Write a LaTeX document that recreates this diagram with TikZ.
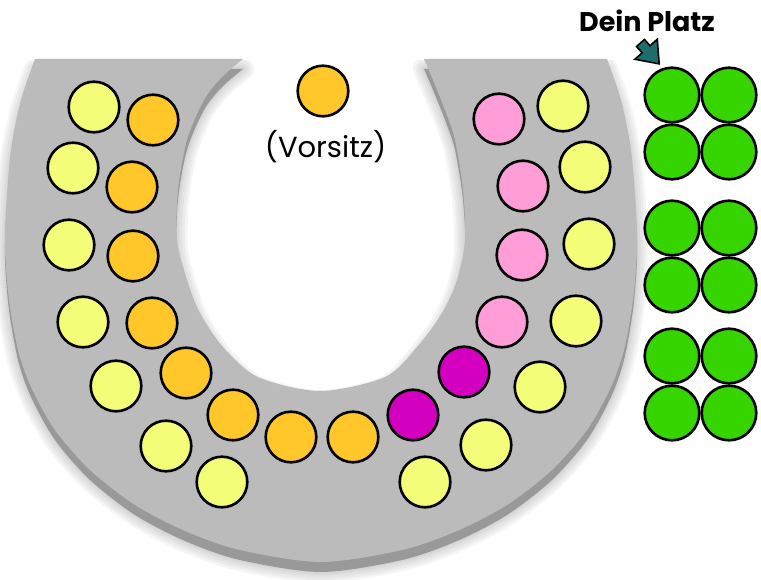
\documentclass[tikz,border=0pt]{standalone}
\usepackage{fontspec}
\newfontfamily\popfont{Poppins}
\definecolor{hsgray}{HTML}{BBBBBB}
\definecolor{shadowgray}{HTML}{999999}
\definecolor{seatyellow}{HTML}{F4FD78}
\definecolor{seatorange}{HTML}{FFC729}
\definecolor{seatpink}{HTML}{FF9DD8}
\definecolor{seatmagenta}{HTML}{D400C0}
\definecolor{seatgreen}{HTML}{36D500}
\definecolor{arrowteal}{HTML}{1F6E6E}
\begin{document}
\begin{tikzpicture}[x=1pt,y=-1pt,
  seat/.style={circle, draw=black, line width=2.6pt, minimum size=50.6pt, inner sep=0pt},
  gseat/.style={circle, draw=black, line width=2.6pt, minimum size=54.6pt, inner sep=0pt, fill=seatgreen},
  hs/.style={insert path={plot[smooth] coordinates {(35,59) (21,100) (11,150) (6,210) (5,250) (9,300) (18,350) (31,387) (55,430) (90,470) (135,505) (185,531) (240,550) (321,562) (402,550) (457,531) (507,505) (552,470) (587,430) (611,387) (624,350) (633,300) (637,250) (636,210) (631,150) (621,100) (607,59)}
     -- plot[smooth] coordinates {(424,59) (433,80) (445,110) (455,140) (463,190) (465,240) (457,280) (442,313) (417,347) (385,377) (320,391) (258,377) (223,347) (200,313) (187,280) (177,240) (178,190) (187,140) (204,100) (222,77) (243,59)} -- cycle}}]
\useasboundingbox (0,0) rectangle (761,580);
% shadow (soft, shifted down)
\begin{scope}
  \clip (0,61) rectangle (761,580);
  \begin{scope}[yshift=-10pt]
    \foreach \w in {22,17,12,7,3}{
      \path[draw=shadowgray, line width=\w pt, line join=round, opacity=0.1, hs];
    }
    \path[fill=shadowgray, hs];
  \end{scope}
\end{scope}
% horseshoe
\path[fill=hsgray, hs];
% chair
\node[seat, fill=seatorange] (chair) at (323,91) {};
\node[font=\popfont\fontsize{29}{34}\selectfont, anchor=base] (vorsitz) at (325.5,158) {(Vorsitz)};
% left yellow
\foreach \x/\y [count=\i] in {94/107, 73/168, 69/245, 83/322, 116/386, 166/446, 222/482}
  \node[seat, fill=seatyellow] (ly\i) at (\x,\y) {};
% left orange
\foreach \x/\y [count=\i] in {153/120, 132/187, 133/256, 152/323, 186/373, 233/415, 291/437, 353/437}
  \node[seat, fill=seatorange] (lo\i) at (\x,\y) {};
% magenta
\node[seat, fill=seatmagenta] (m1) at (413,415) {};
\node[seat, fill=seatmagenta] (m2) at (464,372) {};
% pink
\foreach \x/\y [count=\i] in {499/119, 523/186, 522/255, 502/322}
  \node[seat, fill=seatpink] (p\i) at (\x,\y) {};
% right yellow
\foreach \x/\y [count=\i] in {563/106, 585/167, 589/244, 576/321, 540/387, 486/445, 425/482}
  \node[seat, fill=seatyellow] (ry\i) at (\x,\y) {};
% green seats
\foreach \y [count=\i] in {95, 152, 228, 285, 356, 413}{
  \node[gseat] (ga\i) at (672,\y) {};
  \node[gseat] (gb\i) at (729,\y) {};
}
% label and arrow
\node[font=\popfont\bfseries\fontsize{27}{30}\selectfont, anchor=base] (dein) at (647,32) {Dein Platz};
\begin{scope}[xshift=640.5pt, yshift=-43pt, rotate=-48.2]
  \draw[fill=arrowteal, line width=1.6pt, line join=miter] (0,-5.3) -- (8.4,-5.3) -- (8.4,-15) -- (28,0) -- (8.4,15) -- (8.4,5.3) -- (0,5.3) -- cycle;
\end{scope}
\end{tikzpicture}
\end{document}
